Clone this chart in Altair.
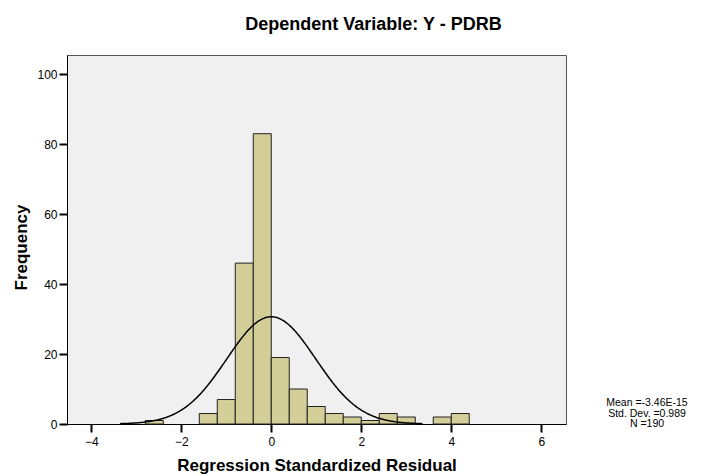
import altair as alt
import pandas as pd

# ---- data ----
bin_starts = [-2.8, -1.6, -1.2, -0.8, -0.4, 0.0, 0.4, 0.8, 1.2, 1.6, 2.0, 2.4, 2.8, 3.6, 4.0]
counts = [1, 3, 7, 46, 83, 19, 10, 5, 3, 2, 1, 3, 2, 2, 3]
bin_width = 0.4
mean_val = -3.46e-15
sd_val = 0.989
n_val = 190
x_ticks = [-4, -2, 0, 2, 4, 6]
y_ticks = [0, 20, 40, 60, 80, 100]
stats_lines = ["Mean =-3.46E-15", "Std. Dev. =0.989", "N =190"]
title_text = "Dependent Variable: Y - PDRB"
x_title = "Regression Standardized Residual"
y_title = "Frequency"

bars_df = pd.DataFrame({"start": bin_starts, "count": counts})
bars_df["end"] = bars_df["start"] + bin_width

FONT = "Liberation Sans"
x_scale = alt.Scale(domain=[-4.54, 6.55], nice=False, zero=False)
y_scale = alt.Scale(domain=[0, 105.5], nice=False)

x_axis = alt.Axis(values=x_ticks, title=x_title, grid=False, format="d",
                  titleY=46, titleBaseline="alphabetic")
y_axis = alt.Axis(values=y_ticks, title=y_title, grid=False, format="d",
                  titleX=-41, titleY=192, titleBaseline="alphabetic", titleAngle=-90)

bars = alt.Chart(bars_df).mark_rect(fill="#D3CE97", stroke="#222222", strokeWidth=1).encode(
    x=alt.X("start:Q", scale=x_scale, axis=x_axis),
    x2="end:Q",
    y=alt.Y("count:Q", scale=y_scale, axis=y_axis),
    y2=alt.datum(0),
)

curve = alt.Chart(alt.sequence(-3.4, 3.401, 0.02, as_="z")).transform_calculate(
    xv=f"{mean_val} + datum.z * {sd_val}",
    yv=f"{n_val * bin_width} / ({sd_val} * sqrt(2 * PI)) * exp(-0.5 * datum.z * datum.z)",
).mark_line(color="black", strokeWidth=1.5).encode(
    x=alt.X("xv:Q", scale=x_scale),
    y=alt.Y("yv:Q", scale=y_scale),
)

stats = alt.Chart(pd.DataFrame({"t": ["\n".join(stats_lines)]})).mark_text(
    lineBreak="\n", align="center", baseline="top", fontSize=10.5, font=FONT,
    lineHeight=10.5, color="black",
).encode(text="t:N", x=alt.value(580), y=alt.value(343))

chart = alt.layer(bars, curve, stats).properties(
    width=499,
    height=369,
    autosize=alt.AutoSizeParams(type="none"),
    padding={"left": 59, "top": 47, "right": 135, "bottom": 50},
    title=alt.TitleParams(title_text, font=FONT, fontSize=18, fontWeight="bold",
                          anchor="middle", frame="group", dx=57, dy=19, offset=26,
                          baseline="alphabetic", color="black"),
).configure_view(
    fill="#F0F0F0", stroke="#555555", strokeWidth=1
).configure_axis(
    domainColor="black", domainWidth=1, tickColor="black", tickSize=8, tickWidth=2,
    labelFont=FONT, labelFontSize=12, labelColor="black",
    titleFont=FONT, titleFontSize=17, titleFontWeight="bold", titleColor="black",
).configure_axisX(labelPadding=4).configure_axisY(labelPadding=2)

chart.save("out.html", embed_options={"renderer": "svg", "actions": False})
